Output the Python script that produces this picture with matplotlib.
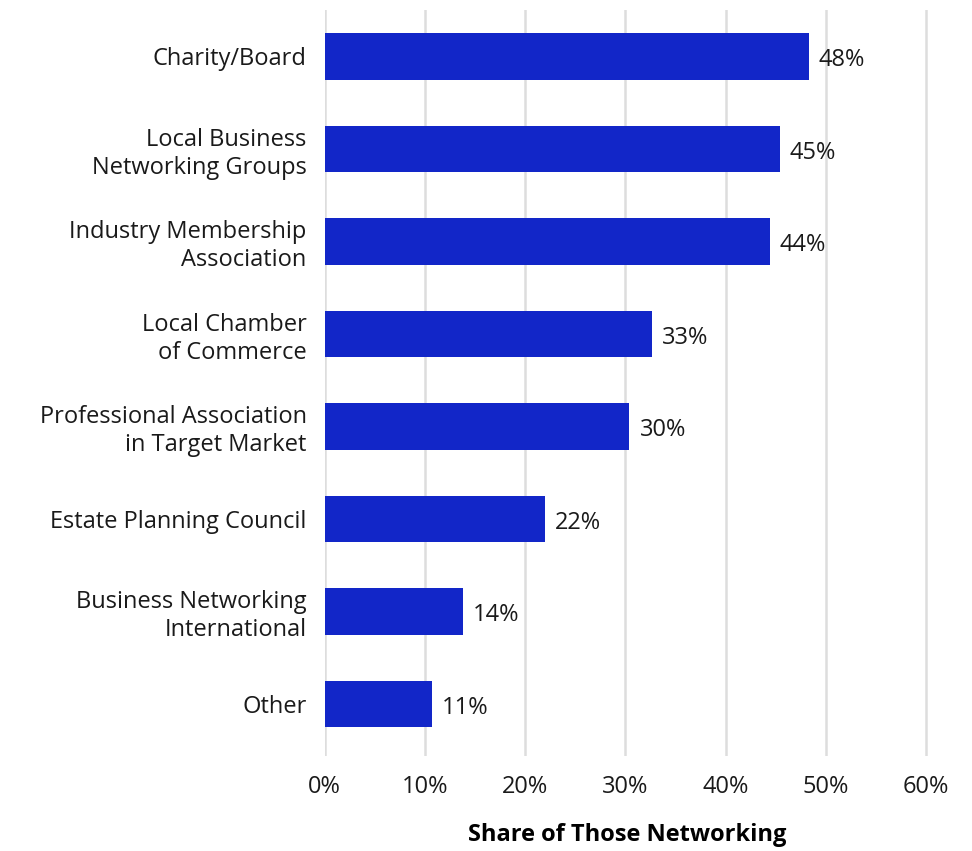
import matplotlib.pyplot as plt
from matplotlib.ticker import FuncFormatter

plt.rcParams['font.family'] = ['Open Sans', 'DejaVu Sans']

categories = [
    "Charity/Board",
    "Local Business\nNetworking Groups",
    "Industry Membership\nAssociation",
    "Local Chamber\nof Commerce",
    "Professional Association\nin Target Market",
    "Estate Planning Council",
    "Business Networking\nInternational",
    "Other",
]
shares = [48.3, 45.4, 44.4, 32.6, 30.4, 22.0, 13.8, 10.7]
xticks = [0, 10, 20, 30, 40, 50, 60]

bar_color = "#1226C8"
text_color = "#1a1a1a"

fig = plt.figure(figsize=(9.72, 8.51), dpi=100)
ax = fig.add_axes([0.334, 0.112, 0.622, 0.876])

ypos = range(len(categories))
ax.barh(ypos, shares, height=0.5, color=bar_color, zorder=3)

for y, v in zip(ypos, shares):
    ax.text(v + 1.0, y + 0.04, f"{v:.0f}%", va="center", ha="left",
            fontsize=17, color=text_color)

ax.set_yticks(list(ypos))
ax.set_yticklabels(categories, fontsize=17, color=text_color,
                   linespacing=1.2)
ax.set_xticks(xticks)
ax.xaxis.set_major_formatter(FuncFormatter(lambda x, _: f"{x:.0f}%"))
ax.tick_params(axis="x", labelsize=17, colors=text_color, length=0, pad=14)
ax.tick_params(axis="y", length=0, pad=13)

ax.set_xlim(0, 60.3)
ax.set_ylim(7.56, -0.5)
ax.grid(axis="x", color="#dddddd", linewidth=1.8, zorder=0)
for s in ax.spines.values():
    s.set_visible(False)

ax.set_xlabel("Share of Those Networking", fontsize=17, fontweight="bold",
              color="black", labelpad=17)

fig.savefig("out.png", dpi=100, facecolor="white")
